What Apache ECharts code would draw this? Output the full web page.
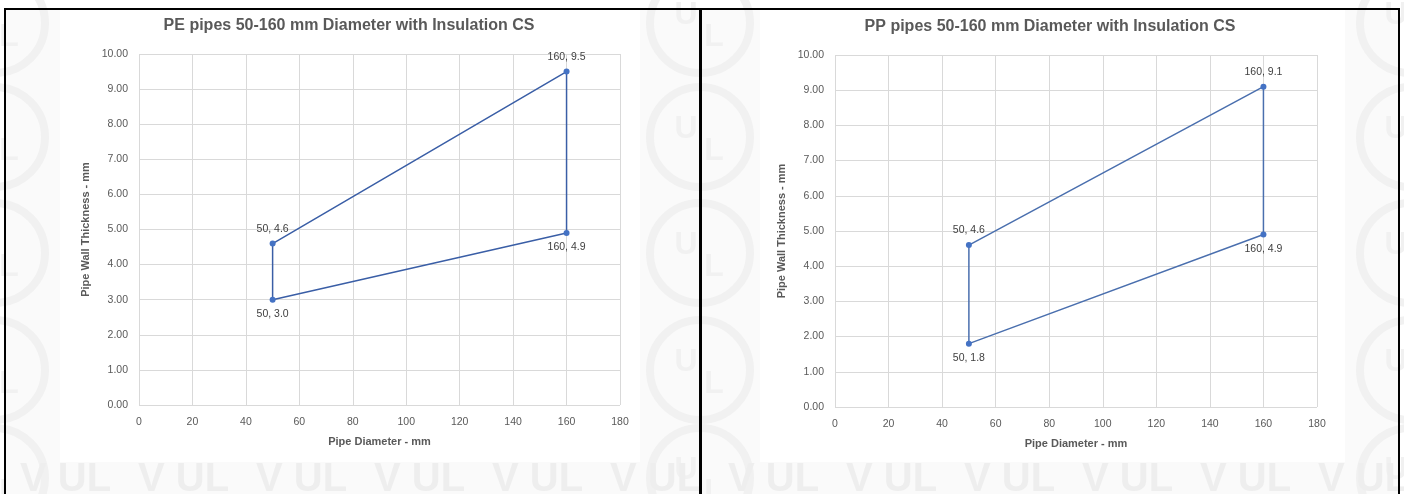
<!DOCTYPE html>
<html>
<head>
<meta charset="utf-8">
<script src="https://cdn.jsdelivr.net/npm/echarts@6/dist/echarts.min.js"></script>
<style>
html,body{margin:0;padding:0;background:#fff;}
#c{width:1404px;height:494px;}
</style>
</head>
<body>
<div id="c"></div>
<script>
// ---- data ----
const titles = ["PE pipes 50-160 mm Diameter with Insulation CS", "PP pipes 50-160 mm Diameter with Insulation CS"];
const xAxisName = "Pipe Diameter - mm";
const yAxisName = "Pipe Wall Thickness - mm";
const peX = [50, 160, 160, 50, 50];
const peY = [4.6, 9.5, 4.9, 3.0, 4.6];
const ppX = [50, 160, 160, 50, 50];
const ppY = [4.6, 9.1, 4.9, 1.8, 4.6];
const labelPos = ["top", "top", "bottom", "bottom", null];
const xTicks = [0, 20, 40, 60, 80, 100, 120, 140, 160, 180];
const yTicks = [0, 1, 2, 3, 4, 5, 6, 7, 8, 9, 10];

const chart = echarts.init(document.getElementById('c'));

function buildData(xs, ys) {
  return xs.map((x, i) => {
    const item = { value: [x, ys[i]] };
    if (labelPos[i]) {
      item.label = { show: true, position: labelPos[i], formatter: x + ', ' + ys[i].toFixed(1) };
    } else {
      item.symbol = 'none';
      item.label = { show: false };
    }
    return item;
  });
}

const grids = [
  { left: 139, top: 54, width: 481, height: 351 },
  { left: 835, top: 55, width: 482, height: 352 }
];

function xAxisCfg(i) {
  return {
    gridIndex: i, type: 'value', min: xTicks[0], max: xTicks[xTicks.length - 1], interval: 20,
    name: xAxisName, nameLocation: 'middle', nameGap: 31,
    nameTextStyle: { color: '#595959', fontSize: 11, fontWeight: 'bold', fontFamily: 'Liberation Sans' },
    axisLine: { show: false }, axisTick: { show: false },
    axisLabel: { color: '#595959', fontSize: 10.5, fontFamily: 'Liberation Sans', margin: 12 },
    splitLine: { show: true, lineStyle: { color: '#d9d9d9', width: 1 } }
  };
}
function yAxisCfg(i) {
  return {
    gridIndex: i, type: 'value', min: yTicks[0], max: yTicks[yTicks.length - 1], interval: 1,
    name: yAxisName, nameLocation: 'middle', nameGap: 48, nameRotate: 90,
    nameTextStyle: { color: '#595959', fontSize: 11, fontWeight: 'bold', fontFamily: 'Liberation Sans' },
    axisLine: { show: false }, axisTick: { show: false },
    axisLabel: { color: '#595959', fontSize: 10.5, fontFamily: 'Liberation Sans', margin: 11, formatter: v => v.toFixed(2) },
    splitLine: { show: true, lineStyle: { color: '#d9d9d9', width: 1 } }
  };
}

// watermark decoration
const wmc = '#f1f1f1';
const wm = [];
const bandXs = [[640, 120], [5, 55], [1345, 55]];
bandXs.forEach(b => wm.push({ type: 'rect', z: -20, shape: { x: b[0], y: 9, width: b[1], height: 485 }, style: { fill: '#fafafa' } }));
wm.push({ type: 'rect', z: -20, shape: { x: 5, y: 462, width: 1395, height: 32 }, style: { fill: '#fafafa' } });
[700, -5, 1410].forEach(cx => {
  [23, 137, 253, 370, 478].forEach(cy => {
    wm.push({ type: 'circle', z: -19, shape: { cx: cx, cy: cy, r: 50 }, style: { fill: 'none', stroke: wmc, lineWidth: 8 } });
    wm.push({ type: 'text', z: -19, x: cx - 14, y: cy - 8, style: { text: 'U', fill: wmc, font: 'bold 32px Liberation Sans', align: 'center', verticalAlign: 'middle' } });
    wm.push({ type: 'text', z: -19, x: cx + 14, y: cy + 14, style: { text: 'L', fill: wmc, font: 'bold 32px Liberation Sans', align: 'center', verticalAlign: 'middle' } });
  });
});
for (let x = 20; x < 1404; x += 118) {
  wm.push({ type: 'text', z: -19, x: x, y: 480, style: { text: 'V UL', fill: '#eeeeee', font: 'bold 40px Liberation Sans', align: 'left', verticalAlign: 'middle' } });
}

const option = {
  backgroundColor: '#ffffff',
  animation: false,
  grid: grids,
  xAxis: [xAxisCfg(0), xAxisCfg(1)],
  yAxis: [yAxisCfg(0), yAxisCfg(1)],
  graphic: wm.concat([
    { type: 'rect', z: 100, shape: { x: 5, y: 9, width: 695, height: 500 }, style: { fill: 'none', stroke: '#000', lineWidth: 2 } },
    { type: 'rect', z: 100, shape: { x: 701, y: 9, width: 698, height: 500 }, style: { fill: 'none', stroke: '#000', lineWidth: 2 } },
    { type: 'text', z: 100, x: 349, y: 26, style: { text: titles[0], fill: '#595959', font: 'bold 16px Liberation Sans', align: 'center', verticalAlign: 'middle' } },
    { type: 'text', z: 100, x: 1050, y: 27, style: { text: titles[1], fill: '#595959', font: 'bold 16px Liberation Sans', align: 'center', verticalAlign: 'middle' } }
  ]),
  series: [
    {
      type: 'line', xAxisIndex: 0, yAxisIndex: 0, data: buildData(peX, peY),
      symbol: 'circle', symbolSize: 6, showAllSymbol: true,
      lineStyle: { color: '#3a5ea6', width: 1.5 }, itemStyle: { color: '#4472c4' },
      label: { color: '#404040', fontSize: 10.5, fontFamily: 'Liberation Sans', distance: 6 }
    },
    {
      type: 'line', xAxisIndex: 1, yAxisIndex: 1, data: buildData(ppX, ppY),
      symbol: 'circle', symbolSize: 6, showAllSymbol: true,
      lineStyle: { color: '#4a6fae', width: 1.5 }, itemStyle: { color: '#4472c4' },
      label: { color: '#404040', fontSize: 10.5, fontFamily: 'Liberation Sans', distance: 6 }
    }
  ]
};
chart.setOption(option);
</script>
</body>
</html>
